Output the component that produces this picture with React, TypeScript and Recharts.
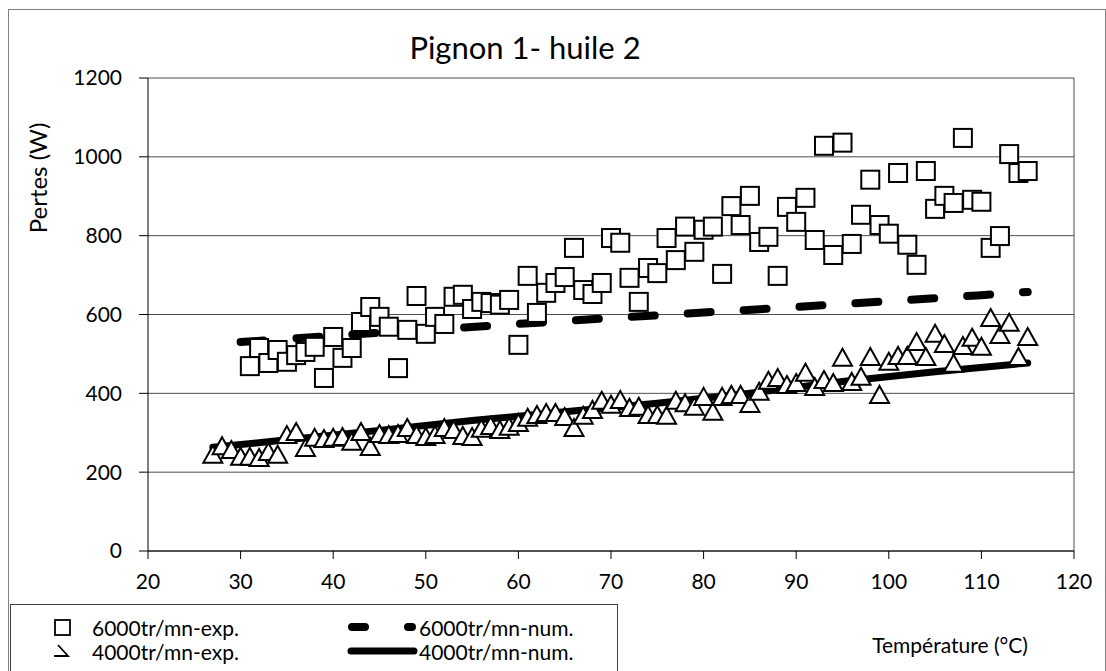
import React from "react";
import { ComposedChart, Scatter, Line, XAxis, YAxis, CartesianGrid, ReferenceLine } from "recharts";

const FONT = "Lato, 'Open Sans', sans-serif";

const xTicks = [20, 30, 40, 50, 60, 70, 80, 90, 100, 110, 120];
const yTicks = [0, 200, 400, 600, 800, 1000, 1200];

// 6000 tr/mn experimental (squares)
const exp6000Temp = [
  31, 32, 33, 34, 35, 36, 37, 38, 39, 40,
  41, 42, 43, 44, 45, 46, 47, 48, 49, 50,
  51, 52, 53, 54, 55, 56, 57, 58, 59, 60,
  61, 62, 63, 64, 65, 66, 67, 68, 69, 70,
  71, 72, 73, 74, 75, 76, 77, 78, 79, 80,
  81, 82, 83, 84, 85, 86, 87, 88, 89, 90,
  91, 92, 93, 94, 95, 96, 97, 98, 99, 100,
  101, 102, 103, 104, 105, 106, 107, 108, 109, 110,
  111, 112, 113, 114, 115,
];
const exp6000Loss = [
  469, 515, 477, 510, 480, 497, 505, 518, 439, 543,
  490, 515, 581, 619, 594, 569, 464, 561, 647, 551,
  594, 576, 645, 650, 614, 632, 629, 625, 637, 523,
  698, 604, 655, 680, 695, 769, 662, 652, 680, 794,
  782, 693, 632, 718, 705, 794, 738, 823, 759, 815,
  823, 703, 875, 827, 901, 784, 797, 698, 873, 835,
  896, 789, 1028, 751, 1036, 779, 853, 942, 827, 805,
  959, 777, 726, 964, 868, 901, 883, 1048, 891, 886,
  769, 799, 1007, 959, 964,
];

// 4000 tr/mn experimental (triangles)
const exp4000Temp = [
  27, 28, 29, 30,
  31, 32, 33, 34, 35, 36, 37, 38, 39, 40,
  41, 42, 43, 44, 45, 46, 47, 48, 49, 50,
  51, 52, 53, 54, 55, 56, 57, 58, 59, 60,
  61, 62, 63, 64, 65, 66, 67, 68, 69, 70,
  71, 72, 73, 74, 75, 76, 77, 78, 79, 80,
  81, 82, 83, 84, 85, 86, 87, 88, 89, 90,
  91, 92, 93, 94, 95, 96, 97, 98, 99, 100,
  101, 102, 103, 104, 105, 106, 107, 108, 109, 110,
  111, 112, 113, 114, 115,
];
const exp4000Loss = [
  244, 266, 256, 239,
  239, 236, 251, 244, 294, 302, 261, 287, 284, 287,
  289, 277, 302, 264, 297, 294, 297, 312, 294, 289,
  294, 312, 307, 292, 289, 310, 317, 307, 315, 325,
  338, 345, 350, 350, 340, 312, 343, 358, 381, 371,
  383, 363, 366, 345, 345, 343, 381, 375, 366, 391,
  353, 391, 396, 396, 373, 404, 432, 439, 421, 426,
  452, 416, 434, 426, 490, 429, 442, 492, 396, 480,
  495, 495, 530, 492, 551, 525, 475, 520, 541, 518,
  591, 548, 579, 492, 543,
];

// numerical curves
const num6000Temp = [30, 40, 50, 60, 70, 80, 90, 100, 110, 115];
const num6000Loss = [530, 546, 561, 576, 591, 605, 619, 634, 649, 657];
const num4000Temp = [27, 35, 45, 55, 65, 75, 85, 95, 105, 115];
const num4000Loss = [263, 282, 306, 331, 353, 375, 400, 430, 455, 477];

const toPoints = (ts: number[], ps: number[]) => ts.map((t, i) => ({ t, p: ps[i] }));

const exp6000 = toPoints(exp6000Temp, exp6000Loss);
const exp4000 = toPoints(exp4000Temp, exp4000Loss);
const num6000 = toPoints(num6000Temp, num6000Loss);
const num4000 = toPoints(num4000Temp, num4000Loss);

const SquareShape = (props: any) => {
  const { cx, cy } = props;
  if (cx == null || cy == null) return null;
  return <rect x={cx - 9} y={cy - 9} width={18} height={18} fill="#fff" stroke="#000" strokeWidth={2} />;
};

const TriShape = (props: any) => {
  const { cx, cy } = props;
  if (cx == null || cy == null) return null;
  return (
    <polygon
      points={`${cx},${cy - 9} ${cx + 9.5},${cy + 8} ${cx - 9.5},${cy + 8}`}
      fill="#fff"
      stroke="#000"
      strokeWidth={2}
    />
  );
};

const textStyle = (size: number): React.CSSProperties => ({
  position: "absolute",
  fontFamily: FONT,
  fontSize: size,
  lineHeight: `${size}px`,
  color: "#000",
  whiteSpace: "nowrap",
});

export default function App() {
  const tickStyle = { fontSize: 21, fill: "#000", fontFamily: FONT };
  return (
    <div style={{ position: "absolute", left: 0, top: 0, width: 1106, height: 671, overflow: "hidden", background: "#fff" }}>
      <div style={{ position: "absolute", left: 8, top: 9, width: 1096, height: 700, border: "1px solid #7f7f7f" }} />
      <div style={{ position: "absolute", left: 0, top: 0 }}>
        <ComposedChart width={1106} height={671} margin={{ top: 78, right: 32, bottom: 60, left: 68 }}>
          <CartesianGrid vertical={false} stroke="#4d4d4d" />
          <XAxis
            type="number"
            dataKey="t"
            domain={[20, 120]}
            ticks={xTicks}
            interval={0}
            allowDataOverflow
            height={60}
            tickSize={8}
            tickMargin={15}
            tick={tickStyle}
            axisLine={{ stroke: "#000" }}
            tickLine={{ stroke: "#000" }}
          />
          <YAxis
            type="number"
            dataKey="p"
            domain={[0, 1200]}
            ticks={yTicks}
            interval={0}
            allowDataOverflow
            width={80}
            tickSize={9}
            tickMargin={17}
            tick={tickStyle}
            axisLine={{ stroke: "#000" }}
            tickLine={{ stroke: "#000" }}
          />
          <ReferenceLine x={120} stroke="#4d4d4d" ifOverflow="extendDomain" />
          <Line
            data={num6000}
            dataKey="p"
            type="linear"
            stroke="#000"
            strokeWidth={8}
            strokeDasharray="23 33"
            strokeLinecap="round"
            dot={false}
            activeDot={false}
            isAnimationActive={false}
          />
          <Line
            data={num4000}
            dataKey="p"
            type="linear"
            stroke="#000"
            strokeWidth={7}
            strokeLinecap="round"
            dot={false}
            activeDot={false}
            isAnimationActive={false}
          />
          <Scatter data={exp6000} dataKey="p" shape={SquareShape} isAnimationActive={false} />
          <Scatter data={exp4000} dataKey="p" shape={TriShape} isAnimationActive={false} />
        </ComposedChart>
      </div>

      <div style={{ ...textStyle(31), left: 525, top: 47, transform: "translate(-50%, -50%)" }}>Pignon 1- huile 2</div>

      <div
        style={{
          ...textStyle(24),
          left: 38,
          top: 178,
          transform: "translate(-50%, -50%) rotate(-90deg)",
        }}
      >
        Pertes (W)
      </div>

      <div style={{ ...textStyle(21), left: 950, top: 644, transform: "translate(-50%, -50%)" }}>Température (°C)</div>

      {/* legend */}
      <div style={{ position: "absolute", left: 10, top: 604, width: 606, height: 100, border: "1px solid #404040", background: "#fff" }} />
      <svg style={{ position: "absolute", left: 0, top: 0 }} width={1106} height={671}>
        <rect x={55} y={620} width={15} height={15} fill="#fff" stroke="#000" strokeWidth={1.8} />
        <line x1={352} y1={627} x2={412} y2={627} stroke="#000" strokeWidth={8} strokeLinecap="round" strokeDasharray="13 43" />
        <polyline points="58,645 68,656 54,656" fill="none" stroke="#000" strokeWidth={1.8} />
        <line x1={351} y1={651} x2={414} y2={651} stroke="#000" strokeWidth={7} strokeLinecap="round" />
      </svg>
      <div style={{ ...textStyle(21), left: 92, top: 627, transform: "translateY(-50%)" }}>6000tr/mn-exp.</div>
      <div style={{ ...textStyle(21), left: 419, top: 627, transform: "translateY(-50%)" }}>6000tr/mn-num.</div>
      <div style={{ ...textStyle(21), left: 92, top: 651, transform: "translateY(-50%)" }}>4000tr/mn-exp.</div>
      <div style={{ ...textStyle(21), left: 419, top: 651, transform: "translateY(-50%)" }}>4000tr/mn-num.</div>
    </div>
  );
}
